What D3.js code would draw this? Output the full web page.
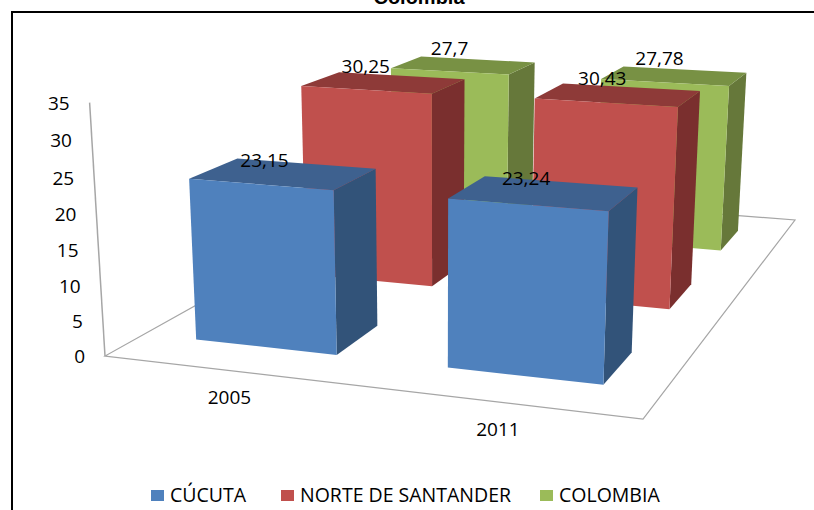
<!DOCTYPE html>
<html>
<head>
<meta charset="utf-8">
<script src="https://d3js.org/d3.v7.min.js"></script>
<style>
html, body { margin: 0; background: #fff; }
svg { display: block; }
text { font-family: "Open Sans", sans-serif; fill: #000; }
</style>
</head>
<body>
<script>
var categories = ['2005', '2011'];
var seriesNames = ['CÚCUTA', 'NORTE DE SANTANDER', 'COLOMBIA'];
var cucuta = [23.15, 23.24];
var norte = [30.25, 30.43];
var colombia = [27.7, 27.78];
var yTicks = [0, 5, 10, 15, 20, 25, 30, 35];

var seriesValues = [cucuta, norte, colombia];
var faceColors = [
    { front: '#4f81bd', top: '#3e618f', side: '#325379' },
    { front: '#c0504d', top: '#8e3a38', side: '#7a2f2e' },
    { front: '#9bbb59', top: '#789144', side: '#66783a' }
];
// data labels sit loosely on the bar tops, per series then per category
var labelOffsets = [
    [[-19, -13], [-18, -15]],
    [[-18, -16], [-16, -16]],
    [[-14, -17], [-15, -18]]
];

var svg = d3.select('body').append('svg').attr('width', 814).attr('height', 510);

// floor corners on screen: front left, front right, back right, back left
var floor = [[105, 356], [643, 419], [795, 220], [403.25, 189.58]];
var vanish = [438.17, 5848.4];
var lift = -0.0441;

var dx1 = floor[1][0] - floor[2][0], dx2 = floor[3][0] - floor[2][0],
    dx3 = floor[0][0] - floor[1][0] + floor[2][0] - floor[3][0],
    dy1 = floor[1][1] - floor[2][1], dy2 = floor[3][1] - floor[2][1],
    dy3 = floor[0][1] - floor[1][1] + floor[2][1] - floor[3][1],
    det = dx1 * dy2 - dx2 * dy1,
    g = (dx3 * dy2 - dx2 * dy3) / det,
    h = (dx1 * dy3 - dx3 * dy1) / det,
    a = floor[1][0] - floor[0][0] + g * floor[1][0],
    b = floor[3][0] - floor[0][0] + h * floor[3][0],
    d = floor[1][1] - floor[0][1] + g * floor[1][1],
    e = floor[3][1] - floor[0][1] + h * floor[3][1];

var xScale = d3.scaleBand().domain(categories).range([0, 1]).paddingInner(0.4292).paddingOuter(0.2146).align(0.5033);
var zScale = d3.scaleBand().domain(seriesNames).range([0, 1]).paddingInner(0.6049).paddingOuter(0.30245).align(0.4903);
var yScale = d3.scaleLinear().domain([0, 35]).range([0, lift]);

function project(u, v, val) {
    var t = yScale(val),
        w = g * u + h * v + 1 + t;
    return [(a * u + b * v + floor[0][0] + vanish[0] * t) / w,
            (d * u + e * v + floor[0][1] + vanish[1] * t) / w];
}

var line = d3.line();

// floor outline and value axis
svg.append('path')
    .attr('d', line([project(0, 1, 0), project(0, 0, 0), project(1, 0, 0), project(1, 1, 0), project(0, 1, 0)]))
    .attr('fill', 'none').attr('stroke', '#a6a6a6').attr('stroke-width', 1.2);
svg.append('path')
    .attr('d', line([project(0, 0, 0), project(0, 0, 35)]))
    .attr('fill', 'none').attr('stroke', '#a6a6a6').attr('stroke-width', 1.5);

yTicks.forEach(function (tick) {
    var p = project(0, 0, tick);
    svg.append('text').attr('x', p[0] - 20).attr('y', p[1] + 0.5).attr('dy', '0.35em')
        .attr('text-anchor', 'end').style('font-size', '19px').text(tick);
});

var bars = [];
seriesNames.forEach(function (name, s) {
    categories.forEach(function (cat, c) {
        bars.push({ cat: cat, name: name, s: s, c: c, value: seriesValues[s][c] });
    });
});
bars.sort(function (p, q) { return q.s - p.s; });

bars.forEach(function (bar) {
    var u0 = xScale(bar.cat), u1 = u0 + xScale.bandwidth(),
        v0 = zScale(bar.name), v1 = v0 + zScale.bandwidth(),
        col = faceColors[bar.s];
    function face(corners, fill) {
        svg.append('path').attr('d', line(corners) + 'Z').attr('fill', fill);
    }
    face([project(u1, v0, 0), project(u1, v1, 0), project(u1, v1, bar.value), project(u1, v0, bar.value)], col.side);
    face([project(u0, v0, bar.value), project(u1, v0, bar.value), project(u1, v1, bar.value), project(u0, v1, bar.value)], col.top);
    face([project(u0, v0, 0), project(u1, v0, 0), project(u1, v0, bar.value), project(u0, v0, bar.value)], col.front);
});

bars.forEach(function (bar) {
    var u = xScale(bar.cat) + xScale.bandwidth() / 2,
        v = zScale(bar.name) + zScale.bandwidth() / 2,
        p = project(u, v, bar.value),
        off = labelOffsets[bar.s][bar.c];
    svg.append('text').attr('x', p[0] + off[0]).attr('y', p[1] + off[1]).attr('dy', '0.35em')
        .attr('text-anchor', 'middle').style('font-size', '19px')
        .text(String(bar.value).replace('.', ','));
});

categories.forEach(function (cat) {
    var p = project(xScale(cat) + xScale.bandwidth() / 2, 0, 0);
    svg.append('text').attr('x', p[0]).attr('y', p[1] + 27).attr('dy', '0.35em')
        .attr('text-anchor', 'middle').style('font-size', '19px').text(cat);
});

// frame runs off the right and bottom of the picture
svg.append('rect').attr('x', 12).attr('y', 12).attr('width', 900).attr('height', 600)
    .attr('fill', 'none').attr('stroke', '#000').attr('stroke-width', 2);

svg.append('text').attr('x', 419).attr('y', 4).attr('text-anchor', 'middle')
    .style('font-family', '"Liberation Sans"').style('font-weight', 'bold').style('font-size', '20px').text('Colombia');

var legendX = [151, 281, 540];
seriesNames.forEach(function (name, i) {
    svg.append('rect').attr('x', legendX[i]).attr('y', 490).attr('width', 13).attr('height', 11)
        .attr('fill', faceColors[i].front);
    svg.append('text').attr('x', legendX[i] + 19).attr('y', 495).attr('dy', '0.35em')
        .style('font-size', '19.5px').text(name);
});
</script>
</body>
</html>
